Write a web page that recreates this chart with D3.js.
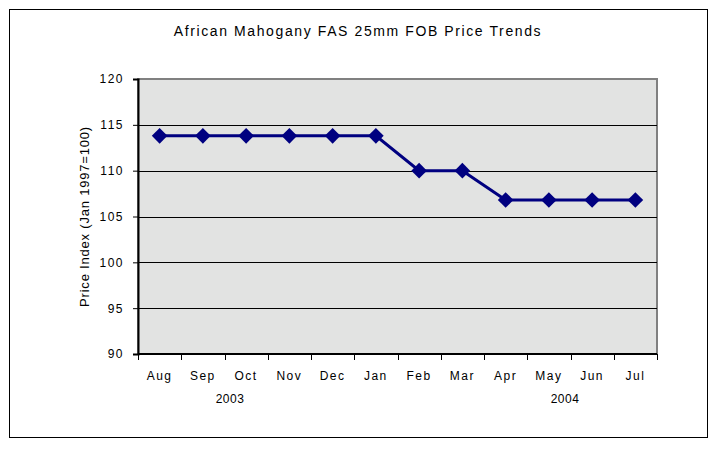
<!DOCTYPE html>
<html>
<head>
<meta charset="utf-8">
<script src="https://cdn.jsdelivr.net/npm/d3@7"></script>
<style>
  body { margin: 0; background: #fff; }
  text { font-family: "Liberation Sans", Arial, sans-serif; fill: #000; }
</style>
</head>
<body>
<svg id="chart" width="713" height="449"></svg>
<script>
var months = ["Aug", "Sep", "Oct", "Nov", "Dec", "Jan", "Feb", "Mar", "Apr", "May", "Jun", "Jul"];
var priceIndex = [113.8, 113.8, 113.8, 113.8, 113.8, 113.8, 110.0, 110.0, 106.8, 106.8, 106.8, 106.8];
var yTicks = [90, 95, 100, 105, 110, 115, 120];
var years = [{label: "2003", x: 230}, {label: "2004", x: 565}];

var svg = d3.select("svg#chart"),
	margin = {top: 79, right: 56, bottom: 95, left: 138},
	width = +svg.attr("width") - margin.left - margin.right,
	height = +svg.attr("height") - margin.top - margin.bottom;

// outer frame
svg.append("rect")
	.attr("x", 9.5).attr("y", 9.5)
	.attr("width", 698).attr("height", 428)
	.attr("fill", "#fff").attr("stroke", "#000").attr("stroke-width", 1);

svg.append("text")
	.attr("x", 358).attr("y", 36)
	.attr("text-anchor", "middle")
	.style("font-size", "14px")
	.style("letter-spacing", "1.6px")
	.text("African Mahogany FAS 25mm FOB Price Trends");

var g = svg.append("g").attr("transform", "translate(" + margin.left + "," + margin.top + ")");

var x = d3.scaleBand().domain(months).range([0, width]);
var y = d3.scaleLinear().domain([90, 120]).range([height, 0]);

// plot background
g.append("rect")
	.attr("width", width).attr("height", height)
	.attr("fill", "#e2e3e2")
	.attr("stroke", "#808080").attr("stroke-width", 2);

// gridlines
g.append("g")
	.selectAll("line")
	.data(yTicks.slice(1, -1))
	.join("line")
	.attr("x1", 0).attr("x2", width)
	.attr("y1", function(d) { return Math.round(y(d)) + 0.5; })
	.attr("y2", function(d) { return Math.round(y(d)) + 0.5; })
	.attr("stroke", "#000");

// y axis
var yAxis = g.append("g")
	.call(d3.axisLeft(y).tickValues(yTicks).tickSize(5).tickPadding(9));
yAxis.select(".domain").attr("stroke-width", 2);
yAxis.selectAll("text").style("font-size", "12px").style("letter-spacing", "1.5px")
	.style("font-family", "'Liberation Sans', Arial, sans-serif");

// x axis: ticks at band edges
var xAxis = g.append("g").attr("transform", "translate(0," + height + ")");
xAxis.append("line")
	.attr("x1", 0).attr("x2", width)
	.attr("stroke", "#000").attr("stroke-width", 2);
xAxis.selectAll("line.tick")
	.data(months.concat(["end"]))
	.join("line")
	.attr("class", "tick")
	.attr("x1", function(d, i) { return Math.round(i * x.step()) + 0.5; })
	.attr("x2", function(d, i) { return Math.round(i * x.step()) + 0.5; })
	.attr("y1", 0).attr("y2", 6)
	.attr("stroke", "#000");
xAxis.selectAll("text.month")
	.data(months)
	.join("text")
	.attr("class", "month")
	.attr("x", function(d) { return x(d) + x.bandwidth() / 2; })
	.attr("y", 26)
	.attr("text-anchor", "middle")
	.style("font-size", "12px")
	.style("letter-spacing", "1.5px")
	.text(function(d) { return d; });

svg.selectAll("text.year")
	.data(years)
	.join("text")
	.attr("class", "year")
	.attr("x", function(d) { return d.x; })
	.attr("y", 403)
	.attr("text-anchor", "middle")
	.style("font-size", "12px")
	.style("letter-spacing", "0.5px")
	.text(function(d) { return d.label; });

svg.append("text")
	.attr("transform", "translate(89," + (margin.top + height / 2) + ") rotate(-90)")
	.attr("text-anchor", "middle")
	.style("font-size", "13px")
	.style("letter-spacing", "0.8px")
	.text("Price Index (Jan 1997=100)");

// series
var line = d3.line()
	.x(function(d, i) { return x(months[i]) + x.bandwidth() / 2; })
	.y(function(d) { return y(d); });

g.append("path")
	.datum(priceIndex)
	.attr("d", line)
	.attr("fill", "none")
	.attr("stroke", "#000080")
	.attr("stroke-width", 3);

g.selectAll("path.marker")
	.data(priceIndex)
	.join("path")
	.attr("class", "marker")
	.attr("transform", function(d, i) { return "translate(" + (x(months[i]) + x.bandwidth() / 2) + "," + y(d) + ")"; })
	.attr("d", d3.symbol(d3.symbolDiamond2, 155))
	.attr("fill", "#000080");
</script>
</body>
</html>
